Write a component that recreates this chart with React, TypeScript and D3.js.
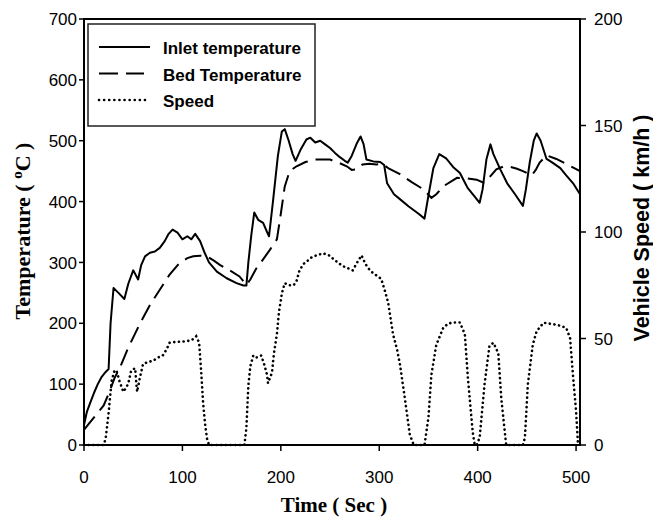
import React from "react";
import * as d3 from "d3";

const inletTime = [0, 3, 6, 10, 14, 18, 22, 25, 27, 30, 35, 41, 45, 50, 55, 58, 62, 67, 72, 77, 82, 86, 90, 95, 100, 105, 109, 113, 118, 122, 127, 135, 145, 155, 162, 165, 167, 170, 173, 177, 182, 186, 188, 192, 197, 201, 204, 208, 212, 215, 220, 226, 230, 235, 240, 245, 250, 255, 260, 265, 268, 272, 277, 281, 284, 287, 294, 301, 305, 308, 315, 321, 330, 340, 346, 350, 355, 361, 368, 375, 382, 390, 396, 402, 405, 409, 413, 416, 423, 430, 438, 446, 449, 453, 457, 460, 464, 470, 476, 484, 490, 497, 504];
const inletTemp = [33, 55, 68, 85, 100, 112, 120, 125, 200, 258, 250, 240, 265, 287, 272, 295, 310, 316, 318, 324, 335, 347, 354, 349, 338, 343, 338, 347, 335, 318, 300, 285, 274, 266, 262, 262, 300, 345, 382, 370, 365, 350, 343, 400, 475, 515, 519, 500, 478, 467, 485, 502, 505, 497, 500, 494, 488, 480, 473, 467, 464, 475, 495, 507, 495, 469, 466, 465, 460, 430, 412, 404, 392, 380, 372, 410, 455, 478, 471, 457, 447, 422, 410, 398, 420, 470, 494, 478, 453, 430, 412, 393, 420, 465, 500, 512, 500, 470, 464, 455, 443, 430, 412];

const bedTime = [0, 5, 10, 15, 20, 26, 31, 37, 45, 57, 67, 77, 87, 97, 105, 111, 118, 125, 132, 138, 148, 158, 165, 169, 175, 182, 189, 196, 200, 204, 209, 216, 225, 236, 250, 260, 267, 272, 277, 283, 290, 297, 303, 310, 321, 333, 345, 353, 358, 365, 379, 390, 399, 406, 412, 419, 427, 433, 440, 446, 455, 459, 463, 470, 480, 490, 504];
const bedTemp = [25, 35, 45, 55, 65, 88, 110, 129, 160, 200, 230, 255, 280, 299, 307, 310, 311, 310, 303, 296, 287, 277, 263, 272, 290, 305, 321, 338, 380, 425, 450, 458, 465, 469, 469, 463, 458, 452, 453, 461, 462, 461, 462, 454, 445, 432, 420, 406, 412, 425, 439, 438, 436, 431, 440, 453, 458, 457, 454, 450, 443, 452, 464, 476, 470, 462, 450];

const speedTime = [0, 20, 22, 25, 28, 31, 33, 36, 40, 43, 45, 48, 52, 53, 54, 57, 60, 65, 70, 75, 80, 84, 87, 95, 100, 108, 112, 114, 117, 119, 121, 123, 125, 127, 163, 165, 167, 169, 172, 175, 180, 183, 186, 187, 191, 193, 196, 198, 201, 204, 208, 213, 216, 219, 223, 226, 231, 236, 243, 249, 257, 263, 268, 273, 278, 282, 286, 291, 296, 302, 306, 309, 314, 318, 321, 326, 331, 335, 346, 350, 353, 358, 365, 370, 375, 382, 387, 390, 395, 397, 399, 402, 407, 412, 416, 421, 424, 429, 446, 448, 451, 456, 460, 467, 477, 484, 490, 494, 497, 500, 502];
const speedValues = [0, 0, 3, 15, 30, 35, 35, 30, 25, 27, 29, 35, 36, 30, 25, 32, 38, 39, 39.5, 41, 42, 45, 48, 48.5, 48.5, 49, 50, 51, 48, 35, 20, 10, 3, 0, 0, 8, 28, 37, 42, 41, 42, 38, 33, 29, 34, 43, 52, 62, 71, 76, 75, 75, 77, 82, 85, 86, 88, 89, 90, 89, 86, 84, 83, 82, 86, 89, 85, 81.7, 80, 78, 72, 67, 52, 45, 38, 22, 5, 0, 0, 13, 33, 47, 55, 57, 57.5, 57.5, 52, 32, 6, 0, 0, 3.4, 28.5, 46.5, 48, 43, 22, 0, 0, 3.4, 28.5, 47, 53.5, 57.4, 56.7, 56, 55, 50, 32, 16, 0];

const timeTicks = [0, 100, 200, 300, 400, 500];
const tempTicks = [0, 100, 200, 300, 400, 500, 600, 700];
const speedTicks = [0, 50, 100, 150, 200];

const legendLabels = ["Inlet temperature", "Bed Temperature", "Speed"];

const W = 653, H = 517;
const left = 84, right = 580, top = 19, bottom = 445;

const SANS = "Arial, 'Liberation Sans', sans-serif";
const SERIF = "'Times New Roman', 'Liberation Serif', serif";

export default function App() {
    const x = d3.scaleLinear().domain([0, 504]).range([left, right]);
    const yT = d3.scaleLinear().domain([0, 700]).range([bottom, top]);
    const yS = d3.scaleLinear().domain([0, 200]).range([bottom, top]);

    const tempLine = d3.line<[number, number]>()
        .x(d => x(d[0]))
        .y(d => yT(d[1]));
    const speedLine = d3.line<[number, number]>()
        .x(d => x(d[0]))
        .y(d => yS(d[1]));

    const inlet = inletTime.map((t, i) => [t, inletTemp[i]] as [number, number]);
    const bed = bedTime.map((t, i) => [t, bedTemp[i]] as [number, number]);
    const speed = speedTime.map((t, i) => [t, speedValues[i]] as [number, number]);

    // line styles for the three series, same order as the legend
    const styles = [
        { dash: undefined, width: 2, cap: "butt" },
        { dash: "19,8", width: 2, cap: "butt" },
        { dash: "0.1,5", width: 2.6, cap: "round" }
    ];

    return (
        <svg width={W} height={H} style={{ position: "absolute", left: 0, top: 0, background: "#fff" }}>
            <rect x={0} y={0} width={W} height={H} fill="#fff" />

            {/* series */}
            <path d={tempLine(inlet) || ""} fill="none" stroke="#000" strokeWidth={2} strokeLinejoin="round" />
            <path d={tempLine(bed) || ""} fill="none" stroke="#000" strokeWidth={2} strokeDasharray="17,8" />
            <path d={speedLine(speed) || ""} fill="none" stroke="#000" strokeWidth={2.6}
                strokeDasharray="0.1,4.6" strokeLinecap="round" />

            {/* frame */}
            <rect x={left} y={top} width={right - left} height={bottom - top} fill="none" stroke="#000" strokeWidth={2} />

            {/* left axis */}
            {tempTicks.map(t => (
                <g key={"l" + t}>
                    <line x1={left - 5} x2={left} y1={yT(t)} y2={yT(t)} stroke="#000" strokeWidth={1.5} />
                    <text x={left - 7} y={yT(t)} dy="0.36em" textAnchor="end" fontFamily={SANS} fontSize={17}>{t}</text>
                </g>
            ))}

            {/* right axis */}
            {speedTicks.map(t => (
                <g key={"r" + t}>
                    <line x1={right} x2={right + 6} y1={yS(t)} y2={yS(t)} stroke="#000" strokeWidth={1.5} />
                    <text x={right + 14} y={yS(t)} dy="0.36em" textAnchor="start" fontFamily={SANS} fontSize={17}>{t}</text>
                </g>
            ))}

            {/* bottom axis */}
            {timeTicks.map(t => (
                <g key={"b" + t}>
                    <line x1={x(t)} x2={x(t)} y1={bottom} y2={bottom + 6} stroke="#000" strokeWidth={1.5} />
                    <text x={x(t)} y={483} textAnchor="middle" fontFamily={SANS} fontSize={17}>{t}</text>
                </g>
            ))}

            {/* axis titles */}
            <text x={334} y={512} textAnchor="middle" fontFamily={SERIF} fontWeight="bold" fontSize={21}>
                Time ( Sec )
            </text>
            <text transform="translate(30,231) rotate(-90)" textAnchor="middle" fontFamily={SERIF} fontWeight="bold" fontSize={22}>
                Temperature (  <tspan dy={-8} fontSize={15}>o</tspan><tspan dy={8}>C )</tspan>
            </text>
            <text transform="translate(649,228) rotate(-90)" textAnchor="middle" fontFamily={SANS} fontWeight="bold" fontSize={21.5}>
                Vehicle Speed ( km/h )
            </text>

            {/* legend */}
            <rect x={88} y={24} width={227} height={102} fill="#fff" stroke="#222" strokeWidth={1.5} />
            {legendLabels.map((label, i) => {
                const yy = 47 + i * 26.5;
                const s = styles[i];
                return (
                    <g key={label}>
                        <line x1={99} x2={i === 1 ? 144 : 150} y1={yy} y2={yy} stroke="#000" strokeWidth={s.width}
                            strokeDasharray={s.dash} strokeLinecap={s.cap as any} />
                        <text x={163} y={yy + 7} fontFamily={SANS} fontWeight="bold" fontSize={17}>{label}</text>
                    </g>
                );
            })}
        </svg>
    );
}
